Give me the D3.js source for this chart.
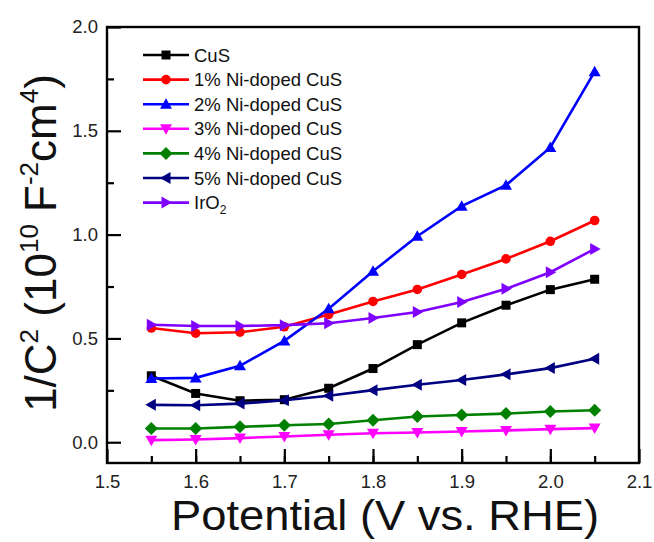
<!DOCTYPE html>
<html>
<head>
<meta charset="utf-8">
<script src="https://cdn.jsdelivr.net/npm/d3@7"></script>
<style>
  body { margin: 0; background: #fff; }
  svg { display: block; font-family: "Liberation Sans", Arial, sans-serif; }
</style>
</head>
<body>
<svg id="chart" width="654" height="542"></svg>
<script>
// potential (V vs. RHE)
const potential = [1.55, 1.6, 1.65, 1.7, 1.75, 1.8, 1.85, 1.9, 1.95, 2.0, 2.05];

const cus   = [0.32, 0.235, 0.20, 0.205, 0.26, 0.355, 0.47, 0.575, 0.66, 0.735, 0.785];
const ni1   = [0.55, 0.525, 0.53, 0.556, 0.615, 0.678, 0.736, 0.808, 0.883, 0.968, 1.068];
const ni2   = [0.307, 0.31, 0.368, 0.488, 0.643, 0.824, 0.992, 1.137, 1.238, 1.42, 1.785];
const ni3   = [0.01, 0.013, 0.02, 0.028, 0.036, 0.043, 0.047, 0.052, 0.057, 0.063, 0.068];
const ni4   = [0.066, 0.066, 0.074, 0.082, 0.088, 0.106, 0.124, 0.131, 0.138, 0.148, 0.154];
const ni5   = [0.18, 0.178, 0.186, 0.202, 0.224, 0.251, 0.277, 0.3, 0.327, 0.357, 0.402];
const iro2  = [0.566, 0.56, 0.56, 0.564, 0.573, 0.598, 0.627, 0.675, 0.739, 0.819, 0.931];

const xTicks = [1.5, 1.6, 1.7, 1.8, 1.9, 2.0, 2.1];
const yTicks = [0.0, 0.5, 1.0, 1.5, 2.0];

const series = [
  { name: "CuS", values: cus, color: "#000000", symbol: "square" },
  { name: "1% Ni-doped CuS", values: ni1, color: "#ff0000", symbol: "circle" },
  { name: "2% Ni-doped CuS", values: ni2, color: "#0000ff", symbol: "up" },
  { name: "3% Ni-doped CuS", values: ni3, color: "#ff00ff", symbol: "down" },
  { name: "4% Ni-doped CuS", values: ni4, color: "#008000", symbol: "diamond" },
  { name: "5% Ni-doped CuS", values: ni5, color: "#000080", symbol: "left" },
  { name: "IrO2", values: iro2, color: "#8000ff", symbol: "right" }
];

const margin = { top: 27, right: 15, bottom: 79, left: 107 };
const width = 654, height = 542;
const svg = d3.select("#chart");

const x = d3.scaleLinear().domain([1.5, 2.1]).range([margin.left, width - margin.right]);
const y = d3.scaleLinear().domain([-0.1, 2.0]).range([height - margin.bottom, margin.top]);

// marker path builders, centred on 0,0
function markerPath(sym) {
  switch (sym) {
    case "square": return "M-4.5,-4.5H4.5V4.5H-4.5Z";
    case "circle": return d3.symbol(d3.symbolCircle, 72)();
    case "up": return "M0,-6L6,4.5L-6,4.5Z";
    case "down": return "M0,6L6,-4.5L-6,-4.5Z";
    case "diamond": return "M0,-6.5L6.5,0L0,6.5L-6.5,0Z";
    case "left": return "M-6,0L4.5,-6L4.5,6Z";
    case "right": return "M6,0L-4.5,-6L-4.5,6Z";
  }
}

const line = d3.line().x(d => x(d[0])).y(d => y(d[1]));

const plot = svg.append("g");
series.forEach(s => {
  const pts = potential.map((p, i) => [p, s.values[i]]);
  const g = plot.append("g");
  g.append("path")
    .attr("d", line(pts))
    .attr("fill", "none")
    .attr("stroke", s.color)
    .attr("stroke-width", 2.6);
  g.selectAll("path.m")
    .data(pts)
    .enter().append("path")
    .attr("class", "m")
    .attr("transform", d => `translate(${x(d[0])},${y(d[1])})`)
    .attr("d", markerPath(s.symbol))
    .attr("fill", s.color);
});

// axes (ticks pointing inward)
const xAxis = d3.axisBottom(x).tickValues(xTicks).tickSize(-14).tickPadding(12)
  .tickFormat(d3.format(".1f"));
const gx = svg.append("g").attr("transform", `translate(0,${height - margin.bottom})`).call(xAxis);
gx.select(".domain").remove();
gx.selectAll("line").attr("stroke-width", 2.2);
gx.selectAll("text").attr("font-size", 18.5).attr("font-family", "Liberation Sans, Arial, sans-serif").attr("fill", "#222");

const gxm = svg.append("g").attr("transform", `translate(0,${height - margin.bottom})`)
  .call(d3.axisBottom(x).tickValues(potential).tickSize(-7).tickFormat(""));
gxm.select(".domain").remove();
gxm.selectAll("line").attr("stroke-width", 2.2);

const yAxis = d3.axisLeft(y).tickValues(yTicks).tickSize(-14).tickPadding(9)
  .tickFormat(d3.format(".1f"));
const gy = svg.append("g").attr("transform", `translate(${margin.left},0)`).call(yAxis);
gy.select(".domain").remove();
gy.selectAll("line").attr("stroke-width", 2.2);
gy.selectAll("text").attr("font-size", 18.5).attr("font-family", "Liberation Sans, Arial, sans-serif").attr("fill", "#222");

const gym = svg.append("g").attr("transform", `translate(${margin.left},0)`)
  .call(d3.axisLeft(y).tickValues([0.25, 0.75, 1.25, 1.75]).tickSize(-7).tickFormat(""));
gym.select(".domain").remove();
gym.selectAll("line").attr("stroke-width", 2.2);

// frame
svg.append("rect")
  .attr("x", margin.left).attr("y", margin.top)
  .attr("width", width - margin.left - margin.right)
  .attr("height", height - margin.top - margin.bottom)
  .attr("fill", "none").attr("stroke", "#000").attr("stroke-width", 2.4);

// axis titles
svg.append("text")
  .attr("x", (margin.left + width - margin.right) / 2 + 12)
  .attr("y", 530)
  .attr("text-anchor", "middle")
  .attr("font-size", 42)
  .attr("fill", "#111")
  .attr("textLength", 428).attr("lengthAdjust", "spacingAndGlyphs")
  .text("Potential (V vs. RHE)");

const yt = svg.append("text")
  .attr("transform", "translate(56,243) rotate(-90)")
  .attr("text-anchor", "middle")
  .attr("font-size", 44)
  .attr("fill", "#111");
yt.append("tspan").text("1/C");
yt.append("tspan").attr("dy", -18).attr("font-size", 26).text("2");
yt.append("tspan").attr("dy", 18).text(" (10");
yt.append("tspan").attr("dy", -18).attr("font-size", 26).text("10");
yt.append("tspan").attr("dy", 18).text(" F");
yt.append("tspan").attr("dy", -18).attr("font-size", 26).text("-2");
yt.append("tspan").attr("dy", 18).text("cm");
yt.append("tspan").attr("dy", -18).attr("font-size", 26).text("4");
yt.append("tspan").attr("dy", 18).text(")");

// legend
const legend = svg.append("g");
series.forEach((s, i) => {
  const ly = 55 + i * 24.6;
  legend.append("line")
    .attr("x1", 143).attr("x2", 189).attr("y1", ly).attr("y2", ly)
    .attr("stroke", s.color).attr("stroke-width", 2.6);
  legend.append("path")
    .attr("transform", `translate(166,${ly})`)
    .attr("d", markerPath(s.symbol))
    .attr("fill", s.color);
  const t = legend.append("text")
    .attr("x", 194).attr("y", ly + 6.5)
    .attr("font-size", 18.5).attr("fill", "#111");
  if (s.name === "IrO2") {
    t.append("tspan").text("IrO");
    t.append("tspan").attr("dy", 5).attr("font-size", 12).text("2");
  } else {
    t.text(s.name);
  }
});
</script>
</body>
</html>
